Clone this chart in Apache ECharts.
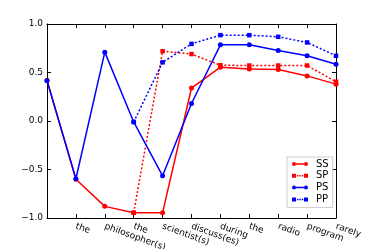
<!DOCTYPE html>
<html><head><meta charset="utf-8">
<script src="https://cdn.jsdelivr.net/npm/echarts@6/dist/echarts.min.js"></script>
<style>html,body{margin:0;padding:0;background:#fff}#c{width:374px;height:249px}</style>
</head><body><div id="c"></div>
<script>
const categories = ['', 'the', 'philosopher(s)', 'the', 'scientist(s)', 'discuss(es)', 'during', 'the', 'radio', 'program', 'rarely'];
const SS = [0.42, -0.60, -0.88, -0.945, -0.945, 0.34, 0.555, 0.535, 0.53, 0.465, 0.38];
const SP = [null, null, null, -0.945, 0.72, 0.69, 0.575, 0.572, 0.572, 0.572, 0.405];
const PS = [0.415, -0.595, 0.71, -0.01, -0.565, 0.18, 0.785, 0.785, 0.727, 0.672, 0.586];
const PP = [null, null, null, -0.01, 0.605, 0.795, 0.885, 0.885, 0.868, 0.81, 0.672];
const yMin = -1, yMax = 1, yStep = 0.5;

const font = 'DejaVu Sans';
const fmtY = v => (v < 0 ? '\u2212' : '') + Math.abs(v).toFixed(1);
const tick = {show: true, inside: true, length: 4, lineStyle: {color: '#000', width: 1}};
const axLine = {show: true, onZero: false, lineStyle: {color: '#000', width: 1}};

const iconSolidCircle = 'path://M0,4A4,4,0,1,1,8,4A4,4,0,1,1,0,4Z M24,4A4,4,0,1,1,32,4A4,4,0,1,1,24,4Z M4,2.5L28,2.5L28,5.5L4,5.5Z';
const iconDotSquare = 'path://M0,0L8,0L8,8L0,8Z M24,0L32,0L32,8L24,8Z M10,2.5L13,2.5L13,5.5L10,5.5Z M14.8,2.5L17.8,2.5L17.8,5.5L14.8,5.5Z M19.6,2.5L22.6,2.5L22.6,5.5L19.6,5.5Z';

function mk(name, data, color, dotted, symbol) {
  return {
    name, type: 'line', data, symbol, symbolSize: symbol === 'rect' ? 4.5 : 5,
    showSymbol: true, connectNulls: false,
    lineStyle: {color, width: 1.5, type: dotted ? [2, 2] : 'solid'},
    itemStyle: {color},
    animation: false
  };
}

const chart = echarts.init(document.getElementById('c'), null, {renderer: 'canvas'});
chart.setOption({
  animation: false,
  grid: {left: 47, right: 38, top: 24, bottom: 31, containLabel: false, outerBoundsMode: 'none'},
  legend: {
    orient: 'vertical', left: 287, top: 157,
    data: [
      {name: 'SS', icon: iconSolidCircle},
      {name: 'SP', icon: iconDotSquare},
      {name: 'PS', icon: iconSolidCircle},
      {name: 'PP', icon: iconDotSquare}
    ],
    itemWidth: 16, itemHeight: 4, itemGap: 1.8,
    padding: [2, 4, 3, 5],
    borderColor: '#cccccc', borderWidth: 1, backgroundColor: '#fff',
    textStyle: {fontFamily: font, fontSize: 10, color: '#000', padding: [0, 0, 0, 3]}
  },
  xAxis: [
    {type: 'category', data: categories, boundaryGap: false, position: 'bottom',
     axisLine: axLine, axisTick: Object.assign({}, tick, {alignWithLabel: true, interval: 0}),
     axisLabel: {interval: 0, rotate: -20, margin: 8, fontFamily: font, fontSize: 9, color: '#000'},
     splitLine: {show: false}},
    {type: 'category', data: categories, boundaryGap: false, position: 'top',
     axisLine: axLine, axisTick: Object.assign({}, tick, {interval: 0}),
     axisLabel: {show: false}, splitLine: {show: false}}
  ],
  yAxis: [
    {type: 'value', min: yMin, max: yMax, interval: yStep, position: 'left',
     axisLine: axLine, axisTick: tick,
     axisLabel: {formatter: fmtY, fontFamily: font, fontSize: 9, color: '#000', margin: 4},
     splitLine: {show: false}},
    {type: 'value', min: yMin, max: yMax, interval: yStep, position: 'right',
     axisLine: axLine, axisTick: tick, axisLabel: {show: false}, splitLine: {show: false}}
  ],
  series: [
    mk('SS', SS, '#ff0000', false, 'circle'),
    mk('SP', SP, '#ff0000', true, 'rect'),
    mk('PS', PS, '#0000ff', false, 'circle'),
    mk('PP', PP, '#0000ff', true, 'rect')
  ]
});
</script></body></html>
